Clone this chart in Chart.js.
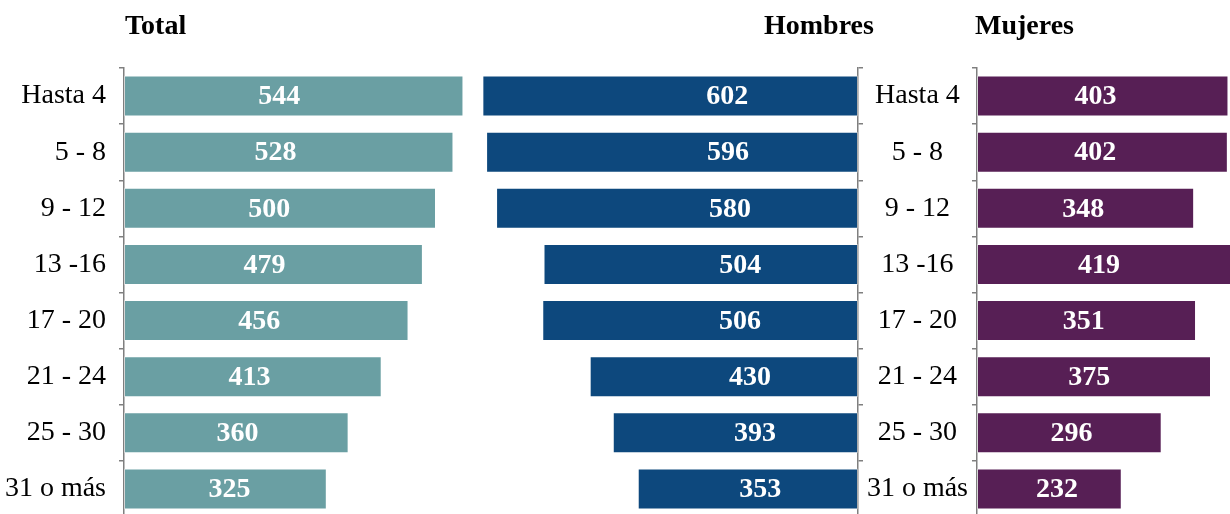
<!DOCTYPE html>
<html lang="es">
<head>
<meta charset="utf-8">
<title>Total, Hombres y Mujeres por tramo</title>
<script src="https://cdn.jsdelivr.net/npm/chart.js@4/dist/chart.umd.min.js"></script>
<style>
  html, body { margin: 0; padding: 0; background: #ffffff; }
  #stage { position: relative; width: 1230px; height: 514px; overflow: hidden; background: #ffffff; }
  #stage canvas { position: absolute; top: 0; }
  .panel-title {
    position: absolute; top: 11px; margin: 0;
    font: bold 28px "Liberation Serif", "Times New Roman", serif;
    line-height: 28px; color: #000000; white-space: nowrap;
  }
</style>
</head>
<body>
<div id="stage">
  <canvas id="cTotal" width="500" height="520" style="left:0px"></canvas>
  <canvas id="cHombres" width="397" height="520" style="left:471px"></canvas>
  <canvas id="cMujeres" width="382" height="520" style="left:858px"></canvas>
  <div class="panel-title" style="left:125px">Total</div>
  <div class="panel-title" style="left:764px">Hombres</div>
  <div class="panel-title" style="left:975px">Mujeres</div>
</div>
<script>
// Age brackets and counts per group
const categories = ['Hasta 4', '5 - 8', '9 - 12', '13 -16', '17 - 20', '21 - 24', '25 - 30', '31 o más'];
const totalValues = [544, 528, 500, 479, 456, 413, 360, 325];
const hombresValues = [602, 596, 580, 504, 506, 430, 393, 353];
const mujeresValues = [403, 402, 348, 419, 351, 375, 296, 232];

// Shared horizontal scale so all three panels use the same length per unit
const PX_PER_UNIT = 0.624;
const FONT_FAMILY = '"Liberation Serif", "Times New Roman", serif';
const AXIS_GREY = '#7f7f7f';

Chart.defaults.font.family = FONT_FAMILY;
Chart.defaults.color = '#000000';

// Writes each bar's value in white inside the bar
const barValuesPlugin = {
  id: 'barValues',
  afterDatasetsDraw(chart, args, opts) {
    const ctx = chart.ctx;
    ctx.save();
    ctx.font = 'bold 28px ' + FONT_FAMILY;
    ctx.fillStyle = '#ffffff';
    ctx.textAlign = 'center';
    ctx.textBaseline = 'middle';
    chart.data.datasets.forEach((ds, di) => {
      const meta = chart.getDatasetMeta(di);
      meta.data.forEach((bar, i) => {
        const len = Math.abs(bar.x - bar.base);
        const dir = bar.x >= bar.base ? 1 : -1;
        const x = bar.base + dir * (opts.offset + opts.frac * len);
        ctx.fillText(String(ds.data[i]), x, bar.y + 1);
      });
    });
    ctx.restore();
  }
};

function makePanel(canvasId, values, color, cfg) {
  const canvas = document.getElementById(canvasId);
  const plotWidth = canvas.width - cfg.axisWidth;
  return new Chart(canvas, {
    type: 'bar',
    data: {
      labels: categories,
      datasets: [{
        data: values,
        backgroundColor: color,
        borderColor: 'rgba(255,255,255,0.35)',
        borderWidth: 1,
        borderSkipped: false,
        barPercentage: 0.73,
        categoryPercentage: 1.0
      }]
    },
    options: {
      indexAxis: 'y',
      responsive: false,
      animation: false,
      devicePixelRatio: 1,
      layout: { padding: { top: 68, bottom: 3, left: 0, right: 0 } },
      plugins: {
        legend: { display: false },
        tooltip: { enabled: false },
        title: { display: false },
        barValues: cfg.labels
      },
      scales: {
        x: {
          display: false,
          min: 0,
          max: plotWidth / PX_PER_UNIT,
          reverse: cfg.reverse
        },
        y: {
          position: cfg.position,
          afterFit: (scale) => {
            // fixed axis band; no extra room above/below for label overhang
            scale.width = cfg.axisWidth;
            scale.paddingTop = 0;
            scale.paddingBottom = 0;
          },
          grid: {
            display: true,
            drawOnChartArea: false,
            drawTicks: true,
            tickLength: 5,
            offset: true,
            color: AXIS_GREY,
            lineWidth: 1.5
          },
          border: { display: true, color: AXIS_GREY, width: 1.5 },
          ticks: {
            display: cfg.showLabels,
            crossAlign: cfg.crossAlign,
            padding: cfg.padding,
            color: '#000000',
            font: { size: 28, family: FONT_FAMILY }
          }
        }
      }
    },
    plugins: [barValuesPlugin]
  });
}

makePanel('cTotal', totalValues, '#6a9fa3', {
  axisWidth: 124, position: 'left', reverse: false, showLabels: true,
  crossAlign: 'near', padding: 13, labels: { offset: 32, frac: 0.363 }
});

makePanel('cHombres', hombresValues, '#0d487d', {
  axisWidth: 10, position: 'right', reverse: true, showLabels: false,
  crossAlign: 'near', padding: 0, labels: { offset: 51, frac: 0.2125 }
});

makePanel('cMujeres', mujeresValues, '#571f55', {
  axisWidth: 119, position: 'left', reverse: false, showLabels: true,
  crossAlign: 'center', padding: 4, labels: { offset: 28, frac: 0.36 }
});
</script>
</body>
</html>
